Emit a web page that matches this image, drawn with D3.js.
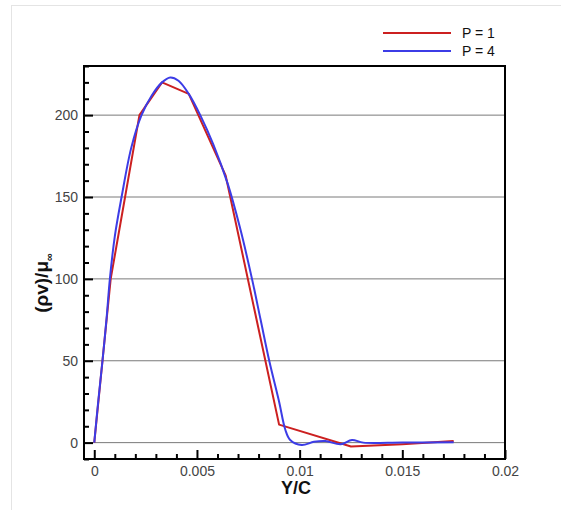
<!DOCTYPE html>
<html>
<head>
<meta charset="utf-8">
<script src="https://cdn.jsdelivr.net/npm/d3@7"></script>
<style>
  html, body { margin: 0; padding: 0; background: #fff; }
  svg { display: block; }
  text { font-family: "Liberation Sans", Arial, sans-serif; }
</style>
</head>
<body>
<svg id="chart" width="561" height="510"></svg>
<script>
// ---- data ----
const seriesNames = ["P = 1", "P = 4"];
const seriesColors = ["#cc2020", "#3c3ce6"];

const p1X = [0, 0.0004, 0.0008, 0.0015, 0.0022, 0.0033, 0.0046, 0.0064, 0.0090, 0.0125, 0.0150, 0.0175];
const p1Y = [0, 50, 100, 150, 200, 220, 213, 163, 11, -2.4, -1, 1];

const p4X = [0, 0.0002, 0.0004, 0.0006, 0.00076, 0.001, 0.00133, 0.0018, 0.0023, 0.0028, 0.0033, 0.0037, 0.0041, 0.0046, 0.00516, 0.0058, 0.0065, 0.0071, 0.00768, 0.0081, 0.00852, 0.0090, 0.0093, 0.00954, 0.0101, 0.0107, 0.01125, 0.0120, 0.01255, 0.0131, 0.0150, 0.0175];
const p4Y = [0, 26, 50, 76, 100, 126, 150, 180, 200, 212, 220, 223, 221, 213, 200, 182, 158, 131, 100, 75, 50, 25, 8, 1.6, -1.5, 0.5, 1, -1, 1.6, 0, 0.1, 0.2];

const xMajorTicks = [0, 0.005, 0.01, 0.015, 0.02];
const xTickLabels = ["0", "0.005", "0.01", "0.015", "0.02"];
const yMajorTicks = [0, 50, 100, 150, 200];
const yTickLabels = ["0", "50", "100", "150", "200"];
const xMinorTicks = d3.range(0, 21).map(i => i * 0.001).filter(v => Math.round(v * 1000) % 5 !== 0);
const yMinorTicks = d3.range(-1, 24).map(i => i * 10).filter(v => v % 50 !== 0);

// ---- layout ----
const svg = d3.select("#chart");
const L = 84, R = 505, T = 66, B = 459;

const x = d3.scaleLinear().domain([-0.0005, 0.02]).range([L, R]);
const y = d3.scaleLinear().domain([-10, 230]).range([B, T]);

// page border
svg.append("line").attr("x1", 11.5).attr("x2", 11.5).attr("y1", 5).attr("y2", 510)
  .attr("stroke", "#e4e4e4").attr("stroke-width", 1);
svg.append("line").attr("x1", 11).attr("x2", 561).attr("y1", 5.5).attr("y2", 5.5)
  .attr("stroke", "#e4e4e4").attr("stroke-width", 1);

// grid
svg.append("g").selectAll("line").data(yMajorTicks).join("line")
  .attr("x1", L).attr("x2", R)
  .attr("y1", d => y(d)).attr("y2", d => y(d))
  .attr("stroke", "#7a7a7a").attr("stroke-width", 1);

// x axis
const xAxis = d3.axisBottom(x).tickValues(xMajorTicks)
  .tickFormat((d, i) => xTickLabels[i]).tickSizeInner(-9).tickSizeOuter(0).tickPadding(7);
const gx = svg.append("g").attr("transform", `translate(0,${B})`).call(xAxis);
const xMinor = d3.axisBottom(x).tickValues(xMinorTicks).tickFormat("").tickSizeInner(-5).tickSizeOuter(0);
const gxm = svg.append("g").attr("transform", `translate(0,${B})`).call(xMinor);

// y axis
const yAxis = d3.axisLeft(y).tickValues(yMajorTicks)
  .tickFormat((d, i) => yTickLabels[i]).tickSizeInner(-9).tickSizeOuter(0).tickPadding(6);
const gy = svg.append("g").attr("transform", `translate(${L},0)`).call(yAxis);
const yMinor = d3.axisLeft(y).tickValues(yMinorTicks).tickFormat("").tickSizeInner(-5).tickSizeOuter(0);
const gym = svg.append("g").attr("transform", `translate(${L},0)`).call(yMinor);

[gx, gxm, gy, gym].forEach(g => {
  g.select(".domain").remove();
  g.selectAll(".tick line").attr("stroke", "#000").attr("stroke-width", 2);
  g.selectAll(".tick text").attr("font-size", 14).attr("fill", "#444")
    .attr("font-family", "'Liberation Sans', Arial, sans-serif");
});

// curves
const p1 = p1X.map((v, i) => [v, p1Y[i]]);
const p4 = p4X.map((v, i) => [v, p4Y[i]]);
const line = d3.line().x(d => x(d[0])).y(d => y(d[1]));
const lineSmooth = d3.line().x(d => x(d[0])).y(d => y(d[1])).curve(d3.curveCatmullRom.alpha(0.5));

svg.append("path").datum(p1).attr("d", line)
  .attr("fill", "none").attr("stroke", seriesColors[0]).attr("stroke-width", 2)
  .attr("stroke-linejoin", "round");
svg.append("path").datum(p4).attr("d", lineSmooth)
  .attr("fill", "none").attr("stroke", seriesColors[1]).attr("stroke-width", 2)
  .attr("stroke-linejoin", "round");

// frame
svg.append("rect").attr("x", L).attr("y", T).attr("width", R - L).attr("height", B - T)
  .attr("fill", "none").attr("stroke", "#000").attr("stroke-width", 2);

// axis titles
svg.append("text").attr("x", 296).attr("y", 494)
  .attr("text-anchor", "middle").attr("font-size", 18).attr("font-weight", "bold")
  .attr("fill", "#111").text("Y/C");

const yl = svg.append("text")
  .attr("transform", "translate(48,283) rotate(-90)")
  .attr("text-anchor", "middle").attr("font-size", 19).attr("font-weight", "bold")
  .attr("fill", "#111");
yl.append("tspan").text("(ρv)/μ");
yl.append("tspan").attr("font-size", 11).attr("dy", 5).text("∞");

// legend
const legendY = [33, 51];
seriesNames.forEach((name, i) => {
  svg.append("line").attr("x1", 383).attr("x2", 451)
    .attr("y1", legendY[i]).attr("y2", legendY[i])
    .attr("stroke", seriesColors[i]).attr("stroke-width", 2);
  svg.append("text").attr("x", 462).attr("y", legendY[i] + 5)
    .attr("font-size", 14).attr("fill", "#111").text(name);
});
</script>
</body>
</html>
